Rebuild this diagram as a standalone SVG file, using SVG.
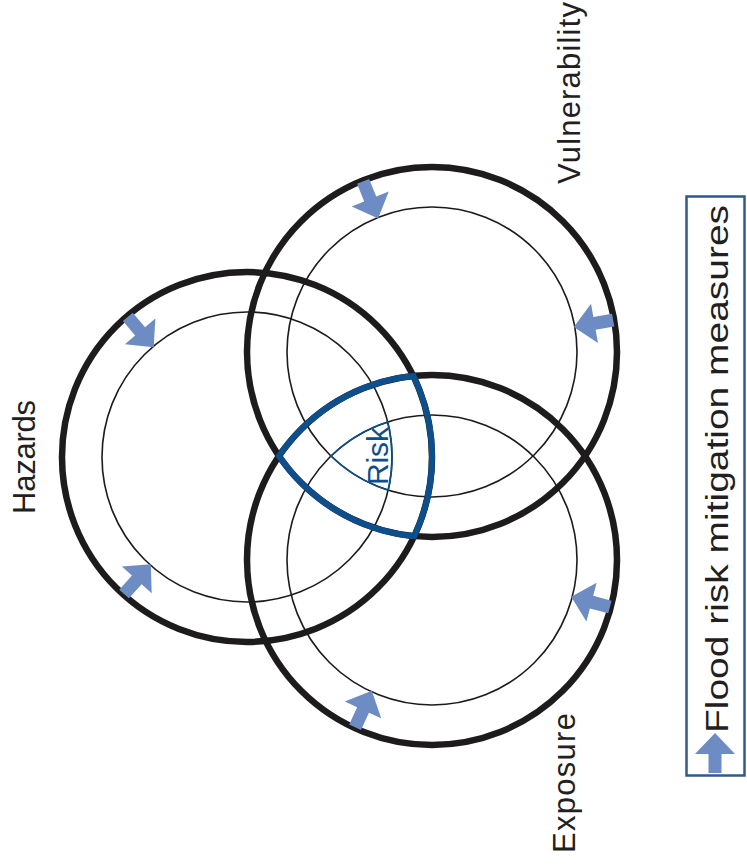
<svg xmlns="http://www.w3.org/2000/svg" xmlns:xlink="http://www.w3.org/1999/xlink" width="747" height="865" viewBox="0 0 747 865">
<defs>
<style>
.outer{fill:none;stroke:#1d1b1b;stroke-width:6.5}
.inner{fill:none;stroke:#1d1b1b;stroke-width:1.6}
.risk{fill:none;stroke:#0c4f8c;stroke-width:6;stroke-linejoin:miter}
.riskin{fill:none;stroke:#0c4f8c;stroke-width:1.6}
.lbl{font-family:"Liberation Sans",Arial,sans-serif;font-size:31px;fill:#231f20;text-anchor:middle}
.leg{font-family:"Liberation Sans",Arial,sans-serif;font-size:32px;fill:#231f20;text-anchor:middle}
.risktxt{font-family:"Liberation Sans",Arial,sans-serif;font-size:30px;fill:#0c4f8c;text-anchor:middle}
.arr{fill:#6d8cc3}
</style>
<path id="arr" d="M0,-6.5 L19,-6.5 L19,-20 L40,0 L19,20 L19,6.5 L0,6.5 Z"/>
</defs>
<rect width="747" height="865" fill="#ffffff"/>
<g id="hazards">
<circle class="outer" cx="247" cy="457" r="185"/>
<circle class="inner" cx="247" cy="457" r="145"/>
<text class="lbl" transform="translate(35,457) rotate(-90)" textLength="114" lengthAdjust="spacing">Hazards</text>
</g>
<g id="vulnerability">
<circle class="outer" cx="432" cy="352" r="185"/>
<circle class="inner" cx="432" cy="352" r="145"/>
<text class="lbl" transform="translate(580,93) rotate(-90)" textLength="182" lengthAdjust="spacing">Vulnerability</text>
</g>
<g id="exposure">
<circle class="outer" cx="432" cy="560" r="185"/>
<circle class="inner" cx="432" cy="560" r="145"/>
<text class="lbl" transform="translate(575,783) rotate(-90)" textLength="140" lengthAdjust="spacing">Exposure</text>
</g>
<g id="risk">
<path class="risk" d="M279,456 A185,185 0 0 1 413.3,375.9 A185,185 0 0 1 414.2,536.2 A185,185 0 0 1 279,456 Z"/>
<path class="riskin" d="M331,456 A145,145 0 0 1 387.7,421.9 A145,145 0 0 1 388.2,490.2 A145,145 0 0 1 331,456 Z"/>
<text class="risktxt" transform="translate(388,456) rotate(-90)" textLength="58" lengthAdjust="spacing">Risk</text>
</g>
<g id="connectors" class="arr">
<use xlink:href="#arr" href="#arr" transform="translate(127.8,316.9) rotate(49.6)"/>
<use xlink:href="#arr" href="#arr" transform="translate(124.1,594) rotate(-48.1)"/>
<use xlink:href="#arr" href="#arr" transform="translate(363.1,181.4) rotate(68)"/>
<use xlink:href="#arr" href="#arr" transform="translate(613.2,320.1) rotate(170)"/>
<use xlink:href="#arr" href="#arr" transform="translate(609.9,607) rotate(194.8)"/>
<use xlink:href="#arr" href="#arr" transform="translate(355.1,727.2) rotate(-65.3)"/>
</g>
<g id="legend">
<rect x="686.5" y="196.5" width="58" height="579" fill="none" stroke="#2e5b8b" stroke-width="2.5"/>
<use class="arr" xlink:href="#arr" href="#arr" transform="translate(715,773) rotate(-90)"/>
<text class="leg" transform="translate(728,469) rotate(-90)" textLength="528" lengthAdjust="spacingAndGlyphs">Flood risk mitigation measures</text>
</g>
</svg>
